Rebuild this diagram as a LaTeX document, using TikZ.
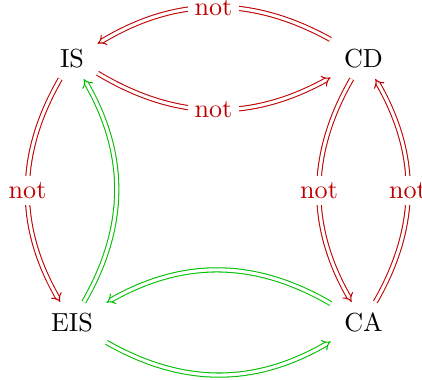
\documentclass[tikz,border=0pt]{standalone}
\usetikzlibrary{arrows.meta}
\definecolor{nred}{RGB}{191,0,0}
\definecolor{ngreen}{RGB}{0,191,0}
\begin{document}
\begin{tikzpicture}[x=0.383pt,y=-0.383pt,
  obj/.style={inner xsep=5pt, inner ysep=4pt},
  imp/.style={double, double distance=1.2pt, line width=0.4pt, -{Implies}},
  redimp/.style={imp, nred},
  greenimp/.style={imp, ngreen},
  notlabel/.style={fill=white, text=nred, inner sep=2.5pt}]
\useasboundingbox (0,0) rectangle (422,380);
\node[obj] (IS)  at (72,58.5)    {IS};
\node[obj] (CD)  at (363.5,58.5) {CD};
\node[obj] (EIS) at (72,322.5)   {EIS};
\node[obj] (CA)  at (363.5,322.5) {CA};
\draw[redimp] (CD) to[bend right=30] node[notlabel] {not} (IS);
\draw[redimp] (IS) to[bend right=30] node[notlabel] {not} (CD);
\draw[redimp] (IS) to[bend right=30] node[notlabel] {not} (EIS);
\draw[greenimp] (EIS) to[bend right=30] (IS);
\draw[redimp] (CD) to[bend right=30] node[notlabel] {not} (CA);
\draw[redimp] (CA) to[bend right=30] node[notlabel] {not} (CD);
\draw[greenimp] (CA) to[bend right=30] (EIS);
\draw[greenimp] (EIS) to[bend right=30] (CA);
\end{tikzpicture}
\end{document}
